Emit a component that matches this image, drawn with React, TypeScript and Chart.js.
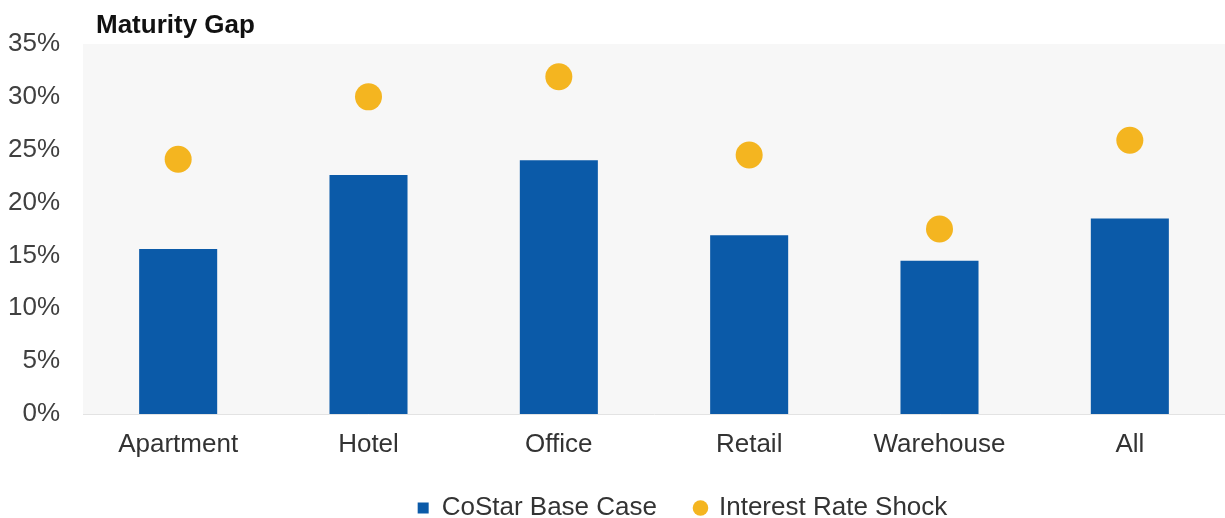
import React, { useEffect, useRef } from "react";
import { Chart, registerables } from "chart.js";

Chart.register(...registerables);

const categories = ["Apartment", "Hotel", "Office", "Retail", "Warehouse", "All"];
const baseCase = [15.6, 22.6, 24.0, 16.9, 14.5, 18.5];
const rateShock = [24.1, 30.0, 31.9, 24.5, 17.5, 25.9];
const seriesNames = ["CoStar Base Case", "Interest Rate Shock"];
const chartTitle = "Maturity Gap";

const FONT = "'Liberation Sans', Arial, sans-serif";

const bgPlugin = {
  id: "plotBg",
  afterLayout(chart: any) {
    const lg = chart.legend;
    if (lg) {
      lg.left += 62;
      lg.right += 62;
    }
  },
  beforeDraw(chart: any) {
    const { ctx, chartArea } = chart;
    ctx.save();
    ctx.fillStyle = "#f7f7f7";
    ctx.fillRect(chartArea.left, chartArea.top, chartArea.right - chartArea.left, chartArea.bottom - chartArea.top);
    ctx.restore();
  },
  afterDraw(chart: any) {
    const { ctx, chartArea } = chart;
    ctx.save();
    ctx.fillStyle = "#111111";
    ctx.font = `bold 26px ${FONT}`;
    ctx.textBaseline = "middle";
    ctx.textAlign = "left";
    ctx.fillText(chartTitle, chartArea.left + 13, 26);
    ctx.restore();
  },
};

export default function App() {
  const ref = useRef<HTMLCanvasElement>(null);
  useEffect(() => {
    document.body.style.margin = "0";
    const chart = new Chart(ref.current as HTMLCanvasElement, {
      type: "bar",
      data: {
        labels: categories,
        datasets: [
          {
            type: "bar",
            label: seriesNames[0],
            data: baseCase,
            backgroundColor: "#0b5aa8",
            barPercentage: 0.41,
            categoryPercentage: 1,
            pointStyle: "rect",
            order: 2,
          } as any,
          {
            type: "line",
            label: seriesNames[1],
            data: rateShock,
            showLine: false,
            pointRadius: 13.5,
            pointHoverRadius: 13.5,
            pointBackgroundColor: "#f4b520",
            backgroundColor: "#f4b520",
            pointBorderWidth: 0,
            borderWidth: 0,
            borderColor: "#f4b520",
            pointStyle: "circle",
            order: 1,
          } as any,
        ],
      },
      options: {
        responsive: false,
        maintainAspectRatio: false,
        animation: false,
        layout: { autoPadding: false, padding: { top: 44, left: 8, right: -8, bottom: 0 } },
        scales: {
          x: {
            grid: { display: false, drawTicks: false },
            border: { display: true, color: "#e3e3e3", width: 1 },
            ticks: { color: "#333333", font: { family: FONT, size: 26 }, padding: 15 },
            afterFit: (s: any) => {
              s.height = 43;
            },
          } as any,
          y: {
            min: 0,
            max: 35,
            grid: { display: false, drawTicks: false },
            border: { display: false },
            ticks: {
              stepSize: 5,
              color: "#404040",
              padding: 23,
              font: { family: FONT, size: 26 },
              callback: (v: any) => `${v}%`,
            },
            afterFit: (s: any) => {
              s.width = 75;
            },
          } as any,
        },
        plugins: {
          title: { display: false },
          tooltip: { enabled: false },
          legend: {
            position: "bottom",
            maxHeight: 61,
            labels: {
              usePointStyle: true,
              boxHeight: 11,
              boxWidth: 11,
              padding: 38,
              color: "#333333",
              font: { family: FONT, size: 26 },
              sort: (a: any, b: any) => a.datasetIndex - b.datasetIndex,
            },
          } as any,
        },
      },
      plugins: [bgPlugin],
    });
    return () => chart.destroy();
  }, []);
  return (
    <div style={{ position: "absolute", left: 0, top: 0, width: 1225, height: 518 }}>
      <canvas ref={ref} width={1225} height={518} style={{ width: 1225, height: 518 }} />
    </div>
  );
}
